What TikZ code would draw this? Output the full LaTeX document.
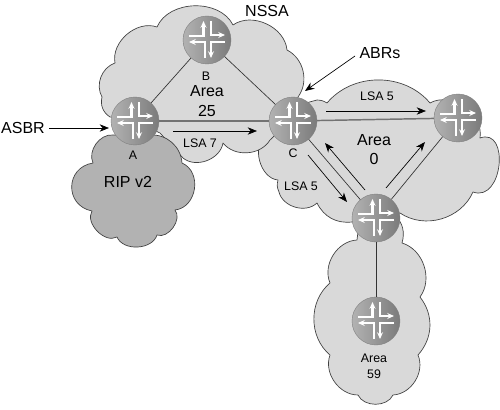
\documentclass[tikz,border=0pt]{standalone}
\usepackage{fontspec}
\setmainfont{Liberation Sans}
\usetikzlibrary{arrows.meta,calc}
\tikzset{
  cloudshape/.style={draw=black!75,line width=0.5pt,fill=black!15,line join=round},
  ripcloud/.style={cloudshape,fill=black!30},
  rt/.style={circle,minimum size=36pt,inner sep=0pt,draw=black!50,line width=0.3pt,
    shade,shading angle=135,left color=black!30,right color=black!52,
    path picture={
      \begin{scope}[shift={(path picture bounding box.center)},x=0.75pt,y=-0.75pt,draw=white,line width=1.6pt,
        tip/.style={-{Stealth[length=5pt,width=4.4pt]}}]
        \draw[tip] (-18,-4) -- (-3.5,-4) -- (-3.5,-19);
        \draw[tip] (4,-19) -- (4,-5) -- (18,-5);
        \draw[tip] (-2,18) -- (-2,2) -- (-18,2);
        \draw[tip] (18,2) -- (4,2) -- (4,18);
      \end{scope}
    }},
  lnk/.style={draw=black!80,line width=0.5pt},
  thicklnk/.style={draw=black!55,line width=1.1pt},
  flow/.style={draw=black,line width=0.5pt,-{Stealth[length=7pt,width=5.5pt]}},
  big/.style={font=\fontsize{12}{14}\selectfont,inner sep=0pt},
  small/.style={font=\fontsize{9.3}{11}\selectfont,inner sep=0pt},
}
\begin{document}
\begin{tikzpicture}[x=0.75pt,y=-0.75pt]
\useasboundingbox (0,0) rectangle (500,410);
\fill[white] (0,0) rectangle (500,410);
% Area 59
\path[cloudshape] (357,240) to[bend right=55] (330,283) to[bend right=50] (330,355)
  to[bend right=55] (358,395) to[bend right=65] (393,395) to[bend right=55] (418,355)
  to[bend right=40] (420,297) to[bend right=55] (402,243) to[bend right=30] (395,215)
  -- (360,215) -- (357,240) -- cycle;
% Area 0
\path[cloudshape] (317,100) to[bend left=15] (327,103) to[bend left=50] (430,103)
  to[bend left=65] (480,138) to[out=20,in=-20,looseness=1.5] (473,192) to[bend left=50] (400,213)
  -- (376,218) -- (352,222) to[bend left=35] (317,203) to[bend left=60] (279,192)
  to[bend left=20] (278,180) to[bend left=70] (266,135) -- (280,110) -- cycle;
% Area 25
\path[cloudshape] (115,63) to[bend left=60] (157,27) to[bend left=65] (233,25)
  to[bend left=60] (287,50) to[bend left=50] (298,97) -- (290,121)
  -- (270,140) to[bend left=55] (223,143) to[bend left=60] (183,158)
  -- (160,133) -- (135,121) -- (110,117) to[bend left=35] (102,97)
  to[bend left=50] (115,63) -- cycle;
% RIP v2
\path[ripcloud] (93,163) to[bend left=60] (113,135) -- (150,135) to[bend left=45] (182,163)
  to[bend left=75,looseness=1.2] (175,210) to[bend left=75] (157,235) to[bend left=70] (117,237)
  to[bend left=75] (92,211) to[bend left=80,looseness=1.5] (93,163) -- cycle;
% routers
\node[rt] (A) at (135,121) {};
\node[rt] (B) at (207,40) {};
\node[rt] (C) at (293,121) {};
\node[rt] (D) at (458,118) {};
\node[rt] (E) at (376,218) {};
\node[rt] (F) at (376,321) {};
% links
\draw[lnk] (A) -- (B);
\draw[lnk] (B) -- (C);
\draw[thicklnk] (A) -- (C);
\draw[thicklnk] (C) -- (D);
\draw[lnk] (C) -- (E);
\draw[lnk] (D) -- (E);
\draw[lnk] (E) -- (F);
% free ends of arrows
\coordinate (asbrS) at (49,128); \coordinate (asbrT) at (109,128);
\coordinate (abrS) at (355,56); \coordinate (abrT) at (305,91);
\coordinate (l7S) at (173,131); \coordinate (l7T) at (257,131);
\coordinate (l5S) at (326,111); \coordinate (l5T) at (426,111);
\coordinate (e1S) at (365,190); \coordinate (e1T) at (325,143);
\coordinate (e2S) at (386,188); \coordinate (e2T) at (425,142);
\coordinate (e3S) at (308,155); \coordinate (e3T) at (347,202);
\draw[flow] (asbrS) -- (asbrT);
\draw[flow] (abrS) -- (abrT);
\draw[flow] (l7S) -- (l7T);
\draw[flow] (l5S) -- (l5T);
\draw[flow] (e1S) -- (e1T);
\draw[flow] (e2S) -- (e2T);
\draw[flow] (e3S) -- (e3T);
% labels
\node[big] (tnssa) at (267,11) {NSSA};
\node[big] (tabr) at (380,53) {ABRs};
\node[big] (tasbr) at (23,128) {ASBR};
\node[big] (tarea25) at (207,91) {Area};
\node[big] (t25) at (207,111) {25};
\node[big] (tarea0) at (374,140) {Area};
\node[big] (t0) at (374,159) {0};
\node[big] (trip) at (128,182) {RIP v2};
\node[small] (tb) at (206,76) {B};
\node[small] (ta) at (133,155) {A};
\node[small] (tc) at (293,153) {C};
\node[small] (tl7) at (200,143) {LSA 7};
\node[small] (tl5a) at (377,96) {LSA 5};
\node[small] (tl5b) at (301,186) {LSA 5};
\node[small] (tarea59) at (374,358) {Area};
\node[small] (t59) at (374,374) {59};
\end{tikzpicture}
\end{document}
